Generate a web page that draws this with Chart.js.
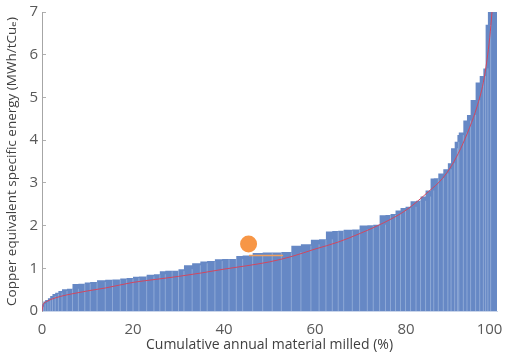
<!DOCTYPE html>
<html>
<head>
<meta charset="utf-8">
<script src="https://cdn.jsdelivr.net/npm/chart.js@4.4.1/dist/chart.umd.min.js"></script>
<style>
  html, body { margin: 0; padding: 0; background: #ffffff; }
  #wrap { width: 508px; height: 354px; }
</style>
</head>
<body>
<div id="wrap"><canvas id="c" width="508" height="354"></canvas></div>
<script>
// Share of annual material milled by each operation (%), sorted by energy intensity
const millShare = [
  0.3, 0.4, 0.6, 0.5, 0.5, 0.6, 0.7, 0.8, 1.1, 1.2, 1.3, 1.4, 1.2, 1.5, 1.8,
  1.6, 1.7, 1.4, 1.4, 1.3, 1.7, 1.6, 1.3, 1.2, 1.5, 1.4, 1.2, 1.8, 1.8, 1.5,
  1.7, 1.6, 1.5, 1.6, 1.4, 2.2, 2.2, 2.1, 2.0, 2.2, 2.1, 2.2, 1.8, 1.5, 1.4,
  1.3, 1.2, 1.9, 1.6, 1.7, 1.3, 1.4, 1.3, 1.1, 1.1, 1.1, 1.1, 1.1, 1.2, 1.0,
  1.1, 1.1, 0.7, 1.0, 1.1, 1.0, 0.7, 0.8, 0.6, 0.3, 1.0, 0.8, 0.8, 1.1, 0.9,
  0.8, 0.5, 0.5, 0.6, 1.4
];
// Copper equivalent specific energy of each operation (MWh/tCue)
const specificEnergy = [
  0.10, 0.16, 0.22, 0.26, 0.30, 0.35, 0.40, 0.43, 0.47, 0.51, 0.52, 0.63, 0.64, 0.67, 0.68,
  0.72, 0.73, 0.74, 0.76, 0.77, 0.80, 0.81, 0.85, 0.86, 0.93, 0.94, 0.94, 0.98, 1.07, 1.12,
  1.16, 1.17, 1.21, 1.22, 1.22, 1.29, 1.30, 1.36, 1.37, 1.37, 1.38, 1.53, 1.56, 1.67, 1.68,
  1.86, 1.87, 1.88, 1.90, 1.91, 2.00, 2.01, 2.02, 2.24, 2.25, 2.27, 2.35, 2.41, 2.44, 2.57,
  2.58, 2.68, 2.82, 3.10, 3.11, 3.22, 3.32, 3.46, 3.81, 3.96, 4.12, 4.18, 4.46, 4.59, 4.94,
  5.35, 5.50, 5.68, 6.70, 9.00
];
// Fitted supply curve (x: cumulative %, y: MWh/tCue)
const fitX = [0, 0.3, 1, 2.2, 4, 6.5, 10, 14, 20, 25, 30, 35, 40, 45, 50, 55, 60, 65,
  70, 75, 80, 85, 88, 90, 92, 94, 95.6, 97, 97.8, 98.4, 98.9, 99.3];
const fitY = [0, 0.16, 0.22, 0.28, 0.34, 0.40, 0.47, 0.54, 0.67, 0.74, 0.81, 0.89, 0.98, 1.06, 1.15,
  1.28, 1.45, 1.61, 1.82, 2.06, 2.36, 2.80, 3.10, 3.40, 3.80, 4.30, 4.78, 5.35, 5.88, 6.40, 7.00, 7.60];
// Highlighted operation: marker and its share of the curve
const markX = [45.4];
const markY = [1.57];
const highlightX = [45.5, 53.0];
const highlightY = [1.30, 1.30];

const xTicks = [0, 20, 40, 60, 80, 100];
const yTicks = [0, 1, 2, 3, 4, 5, 6, 7];

// Build cumulative step profile and the boundaries between operations
const stepPts = [];
const seps = [];
let cum = 0;
for (let i = 0; i < millShare.length; i++) {
  stepPts.push({ x: cum, y: specificEnergy[i] });
  if (i > 0) {
    const h = Math.min(specificEnergy[i - 1], specificEnergy[i]);
    seps.push({ x: cum, y: 0 }, { x: cum, y: h }, { x: cum, y: null });
  }
  cum += millShare[i];
}
stepPts.push({ x: cum, y: specificEnergy[specificEnergy.length - 1] });

const fitPts = fitX.map((x, i) => ({ x, y: fitY[i] }));
const markPts = markX.map((x, i) => ({ x, y: markY[i] }));
const hlPts = highlightX.map((x, i) => ({ x, y: highlightY[i] }));

const FONT = "'Open Sans', 'DejaVu Sans', sans-serif";

new Chart(document.getElementById('c'), {
  type: 'line',
  data: {
    datasets: [
      {
        data: markPts, showLine: false, pointRadius: 8.5, pointHoverRadius: 8.5,
        pointBackgroundColor: '#f79646', pointBorderWidth: 0, order: 0
      },
      {
        data: hlPts, borderColor: '#f0a060', borderWidth: 1.5, pointRadius: 0, order: 1
      },
      {
        data: fitPts, borderColor: '#d2475f', borderWidth: 1, pointRadius: 0,
        cubicInterpolationMode: 'monotone', order: 2
      },
      {
        data: seps, borderColor: 'rgba(190,208,236,0.45)', borderWidth: 1, pointRadius: 0,
        spanGaps: false, order: 3
      },
      {
        data: stepPts, stepped: 'after', borderWidth: 0, borderColor: 'rgba(0,0,0,0)',
        backgroundColor: '#6688c5', fill: 'origin', pointRadius: 0, order: 4
      }
    ]
  },
  options: {
    responsive: false,
    animation: false,
    events: [],
    layout: { padding: { top: 12, right: 11, bottom: 0, left: 0 } },
    plugins: { legend: { display: false }, tooltip: { enabled: false } },
    scales: {
      x: {
        type: 'linear', min: 0, max: 100,
        afterBuildTicks: s => { s.ticks = xTicks.map(v => ({ value: v })); },
        afterFit: s => { s.height = 43; s.paddingLeft = 0; s.paddingRight = 0; },
        grid: { display: false },
        border: { display: true, color: '#c9d5ea', width: 1 },
        ticks: {
          color: '#595959', font: { family: FONT, size: 15 }, padding: 2, maxRotation: 0,
          // keep the last label inside the canvas edge
          callback: v => (v === 100 ? '100\u2002\u2002' : String(v))
        },
        title: {
          display: true, text: 'Cumulative annual material milled (%)',
          color: '#404040', font: { family: FONT, size: 14 }, padding: { top: 0, bottom: 1 }
        }
      },
      y: {
        min: 0, max: 7,
        afterBuildTicks: s => { s.ticks = yTicks.map(v => ({ value: v })); },
        afterFit: s => { s.width = 42; s.paddingTop = 0; s.paddingBottom = 0; },
        // short tick marks pointing into the plot
        grid: { display: true, drawOnChartArea: false, drawTicks: true, tickLength: -4, color: '#b0b0b0' },
        border: { display: true, color: '#a6a6a6', width: 1 },
        ticks: { color: '#595959', font: { family: FONT, size: 15 }, padding: 8 },
        title: {
          display: true, text: 'Copper equivalent specific energy (MWh/tCu\u2091)',
          color: '#404040', font: { family: FONT, size: 13.5 }, padding: { top: 4, bottom: 0 }
        }
      }
    }
  }
});
</script>
</body>
</html>
